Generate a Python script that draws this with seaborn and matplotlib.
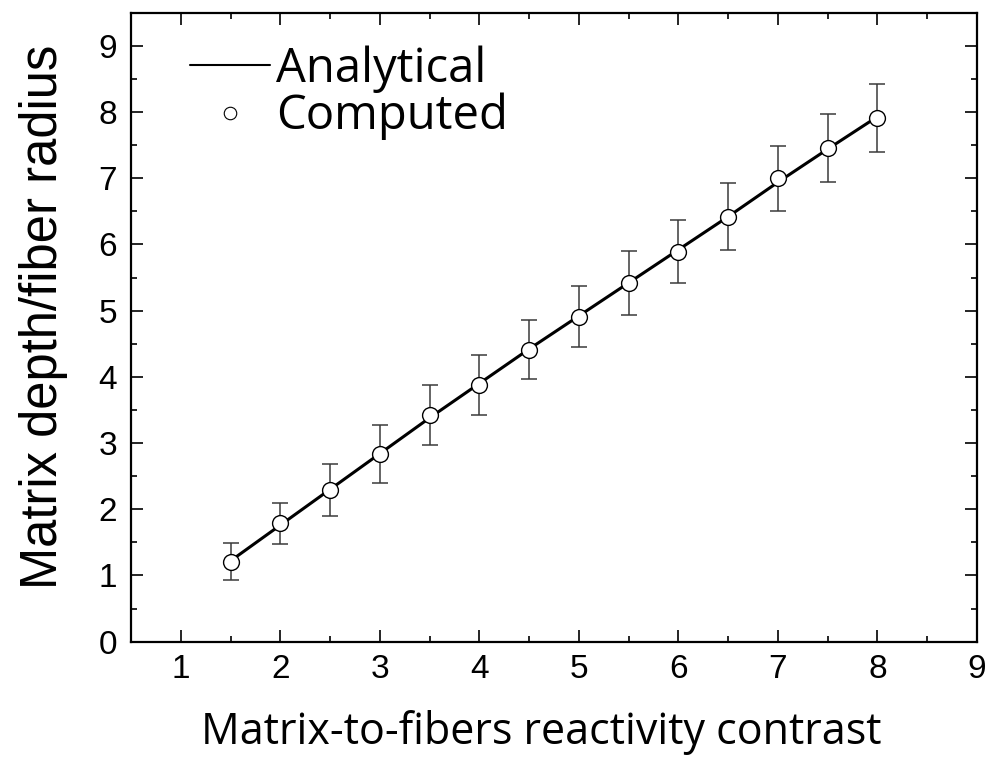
import numpy as np
import pandas as pd
import seaborn as sns
import matplotlib.pyplot as plt
from matplotlib.lines import Line2D
from matplotlib.ticker import MultipleLocator

# reactivity contrast values
contrast = [1.5, 2.0, 2.5, 3.0, 3.5, 4.0, 4.5, 5.0, 5.5, 6.0, 6.5, 7.0, 7.5, 8.0]
# computed depth / fiber radius and error half-widths
computed = [1.21, 1.79, 2.29, 2.83, 3.42, 3.88, 4.41, 4.91, 5.42, 5.89, 6.42, 7.00, 7.46, 7.91]
computed_err = [0.28, 0.31, 0.39, 0.44, 0.45, 0.45, 0.45, 0.46, 0.48, 0.48, 0.50, 0.49, 0.51, 0.51]
# analytical curve
analytical = [1.22, 1.76, 2.30, 2.84, 3.38, 3.90, 4.42, 4.92, 5.42, 5.92, 6.42, 6.94, 7.44, 7.93]

df = pd.DataFrame({'contrast': contrast, 'computed': computed,
                   'err': computed_err, 'analytical': analytical})

sns.set_style('ticks')
plt.rcParams['font.family'] = ['Liberation Sans', 'DejaVu Sans']
plt.rcParams['text.color'] = 'black'
plt.rcParams['axes.labelcolor'] = 'black'

fig = plt.figure(figsize=(9.87, 7.63), dpi=100)
ax = fig.add_axes([0.1327, 0.159, 0.8572, 0.8244])

sns.lineplot(data=df, x='contrast', y='analytical', color='black', lw=2.2, ax=ax, zorder=2)
ax.errorbar(df['contrast'], df['computed'], yerr=df['err'], fmt='none',
            ecolor='#3a3a3a', elinewidth=1.1, capsize=6, capthick=1.1, zorder=1)
sns.scatterplot(data=df, x='contrast', y='computed', s=130, color='white',
                edgecolor='black', linewidth=1.0, ax=ax, zorder=3)

ax.set_xlim(0.5, 9)
ax.set_ylim(0, 9.5)
ax.xaxis.set_major_locator(MultipleLocator(1))
ax.xaxis.set_minor_locator(MultipleLocator(0.5))
ax.yaxis.set_major_locator(MultipleLocator(1))
ax.yaxis.set_minor_locator(MultipleLocator(0.5))
ax.set_xticks(range(1, 10))
ax.set_yticks(range(0, 10))
ax.tick_params(which='both', direction='in', top=True, right=True, width=1.2, colors='black')
ax.tick_params(which='major', length=8.5, labelsize=24)
ax.tick_params(axis='x', which='major', pad=9)
ax.tick_params(axis='y', which='major', pad=10)
ax.tick_params(which='minor', length=4.3)
for s in ax.spines.values():
    s.set_linewidth(1.6)
    s.set_color('black')

ax.set_xlabel('Matrix-to-fibers reactivity contrast', family='Open Sans', fontsize=31,
              color='black')
ax.set_ylabel('Matrix depth/fiber radius', fontsize=36.5, color='black')
ax.xaxis.set_label_coords(0.485, -0.108)
ax.yaxis.set_label_coords(-0.075, 0.517)

handles = [Line2D([], [], color='black', lw=1.5),
           Line2D([], [], ls='none', marker='o', markersize=9, markerfacecolor='white',
                  markeredgecolor='black', markeredgewidth=0.8)]
leg = ax.legend(handles, ['Analytical', 'Computed'], loc='upper left', frameon=False,
                prop={'family': 'Open Sans', 'size': 34}, handlelength=1.7, handletextpad=0.12,
                labelspacing=0.0, borderpad=0, borderaxespad=0, bbox_to_anchor=(0.07, 0.948))
for t in leg.get_texts():
    t.set_color('black')

fig.savefig('out.png', dpi=100)
